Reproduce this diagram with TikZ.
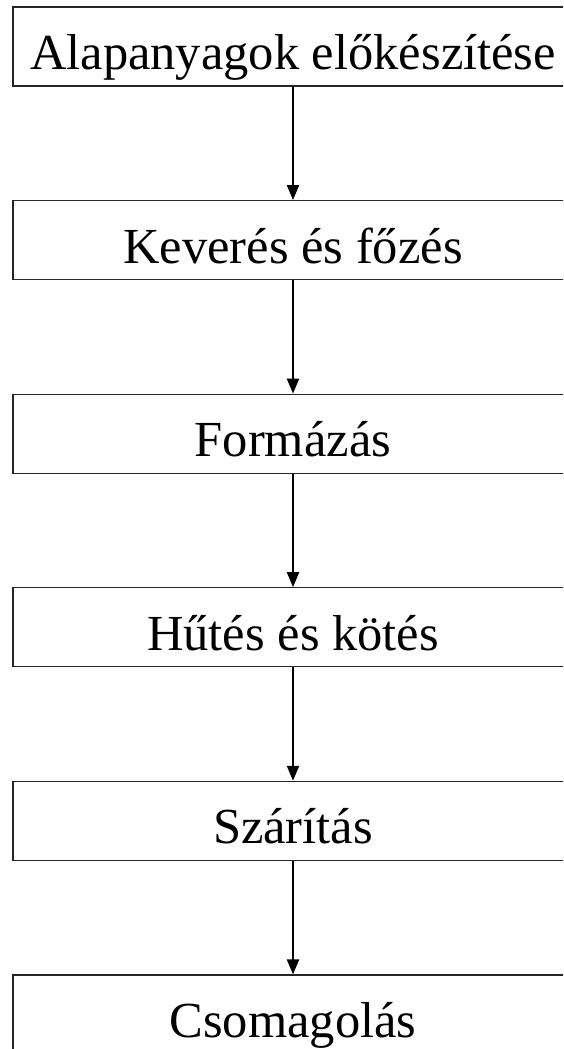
\documentclass[tikz,border=0pt]{standalone}
\usepackage{fontspec}
\setmainfont{Liberation Serif}
\usetikzlibrary{arrows.meta}
\begin{document}
\begin{tikzpicture}[x=1pt,y=-1pt,
  stepbox/.style={draw=black!85, line width=1.2pt, minimum width=560pt, minimum height=79pt, inner sep=0pt, font=\fontsize{50.5}{56}\selectfont, text height=48pt, text depth=2pt},
  flow/.style={line width=2.2pt, -{Triangle[length=15pt,width=12pt]}}]
\useasboundingbox (0,0) rectangle (563,1049);
\clip (0,0) rectangle (563,1049);
\node[stepbox] (a) at (293,46.5) {Alapanyagok előkészítése};
\node[stepbox] (b) at (293,240.1) {Keverés és főzés};
\node[stepbox] (c) at (293,433.7) {Formázás};
\node[stepbox] (d) at (293,627.3) {Hűtés és kötés};
\node[stepbox] (e) at (293,820.9) {Szárítás};
\node[stepbox] (f) at (293,1014.5) {Csomagolás};
\draw[flow] (a) -- (b);
\draw[flow] (b) -- (c);
\draw[flow] (c) -- (d);
\draw[flow] (d) -- (e);
\draw[flow] (e) -- (f);
\end{tikzpicture}
\end{document}
